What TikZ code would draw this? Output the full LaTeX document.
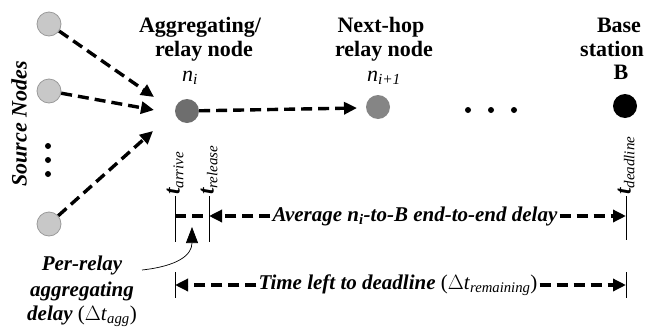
\documentclass[tikz,border=0pt]{standalone}
\usepackage{fontspec}
\setmainfont{Liberation Serif}
\usetikzlibrary{arrows.meta}
\definecolor{srcfill}{HTML}{C8C8C8}
\definecolor{srcedge}{HTML}{9A9A9A}
\definecolor{aggfill}{HTML}{6E6E6E}
\definecolor{nextfill}{HTML}{858585}
\begin{document}
\begin{tikzpicture}[x=1pt,y=-1pt,
  dot/.style={circle,inner sep=0pt,minimum size=24pt},
  srcnode/.style={dot,fill=srcfill,draw=srcedge,line width=0.8pt},
  smalldot/.style={circle,fill=black,inner sep=0pt,minimum size=6pt},
  flow/.style={line width=3.4pt,dash pattern=on 11pt off 6pt,-{Triangle[length=13pt,width=12pt]}},
  dashseg/.style={line width=3.4pt,dash pattern=on 11pt off 6pt},
  tick/.style={line width=0.6pt},
  head/.style={font=\fontsize{22}{27}\selectfont\bfseries,anchor=base,inner sep=0pt},
  ital/.style={font=\fontsize{22}{27}\selectfont\itshape,anchor=base,inner sep=0pt},
  bilab/.style={font=\fontsize{21}{24}\selectfont\bfseries\itshape,inner sep=2pt},
  tlab/.style={font=\fontsize{23}{24}\selectfont\bfseries\itshape,rotate=90,anchor=west,inner sep=1pt}
]
\useasboundingbox (0,0) rectangle (646,327);

% source nodes
\node[srcnode] (s1) at (49,24) {};
\node[srcnode] (s2) at (49,91) {};
\node[srcnode] (s3) at (49,224) {};
\node[smalldot] (d1) at (48,146) {};
\node[smalldot] (d2) at (48,160) {};
\node[smalldot] (d3) at (48,174) {};
\node[font=\fontsize{22}{27}\selectfont\bfseries\itshape,rotate=90,inner sep=0pt] (srclab) at (19,124) {Source Nodes};

% relay nodes
\node[dot,fill=aggfill] (ni) at (187,111) {};
\node[dot,fill=nextfill] (ni1) at (378,107) {};
\node[dot,fill=black] (B) at (625,106) {};
\node[smalldot] (e1) at (468,110) {};
\node[smalldot] (e2) at (491,110) {};
\node[smalldot] (e3) at (514,110) {};

% headings
\node[head] (h1) at (200,32) {Aggregating/};
\node[head] (h2) at (204,56) {relay node};
\node[ital] (h3) at (190,81) {\textit{n}\textsubscript{\textit{i}}};
\node[head] (h4) at (381,32) {Next-hop};
\node[head] (h5) at (384,56) {relay node};
\node[ital] (h6) at (384,81) {\textit{n}\textsubscript{\textit{i+1}}};
\node[head] (h7) at (619,32) {Base};
\node[head] (h8) at (612,56) {station};
\node[head] (h9) at (621,79) {B};

% arrows into the aggregating node
\coordinate (a1) at (154,97);
\coordinate (a2) at (154,110);
\coordinate (a3) at (153,131);
\draw[flow] (s1) -- (a1);
\draw[flow] (s2) -- (a2);
\draw[flow] (s3) -- (a3);
\coordinate (a4) at (357,108);
\draw[flow] (ni) -- (a4);

% timeline ticks
\coordinate (tAt) at (175,196);
\coordinate (tAb) at (175,242);
\coordinate (tRt) at (209,196);
\coordinate (tRb) at (209,242);
\coordinate (tDt) at (626,196);
\coordinate (tDb) at (626,240);
\coordinate (uAt) at (175,272);
\coordinate (uAb) at (175,298);
\coordinate (uDt) at (626,272);
\coordinate (uDb) at (626,298);
\draw[tick] (tAt) -- (tAb);
\draw[tick] (tRt) -- (tRb);
\draw[tick] (tDt) -- (tDb);
\draw[tick] (uAt) -- (uAb);
\draw[tick] (uDt) -- (uDb);

\node[tlab] (tarr) at (tAt) {t\textsubscript{\normalfont\itshape\fontsize{15}{15}\selectfont arrive}};
\node[tlab] (trel) at (tRt) {t\textsubscript{\normalfont\itshape\fontsize{15}{15}\selectfont release}};
\node[tlab] (tdead) at (tDt) {t\textsubscript{\normalfont\itshape\fontsize{15}{15}\selectfont deadline}};

% row 1
\coordinate (r1a) at (175,216);
\coordinate (r1r) at (209,216);
\coordinate (r1d) at (626,216);
\draw[dashseg] (r1a) -- (r1r);
\node[bilab] (avg) at (415,216) {Average \textit{n}\textsubscript{\textit{i}}-to-B end-to-end delay};
\draw[flow] (avg.west) -- (r1r);
\draw[flow] (avg.east) -- (r1d);

% row 2
\coordinate (r2a) at (175,285);
\coordinate (r2d) at (626,285);
\node[bilab] (tleft) at (398,285) {Time left to deadline {\normalfont(\(\Delta\)\textit{t}\textsubscript{\textit{remaining}})}};
\draw[flow] (tleft.west) -- (r2a);
\draw[flow] (tleft.east) -- (r2d);

% per-relay label
\node[font=\fontsize{21}{25}\selectfont\bfseries\itshape,anchor=base,inner sep=0pt] (p1) at (82,270) {Per-relay};
\node[font=\fontsize{21}{25}\selectfont\bfseries\itshape,anchor=base,inner sep=0pt] (p2) at (82,296) {aggregating};
\node[font=\fontsize{21}{25}\selectfont\bfseries\itshape,anchor=base,inner sep=0pt] (p3) at (82,320) {delay {\normalfont(\(\Delta\)\textit{t}\textsubscript{\textit{agg}})}};
\coordinate (cs) at (142,270);
\coordinate (ce) at (192,227);
\draw[line width=0.7pt,-{Triangle[length=16pt,width=12pt]}] (cs) .. controls (178,266) and (192,255) .. (ce);
\end{tikzpicture}
\end{document}
